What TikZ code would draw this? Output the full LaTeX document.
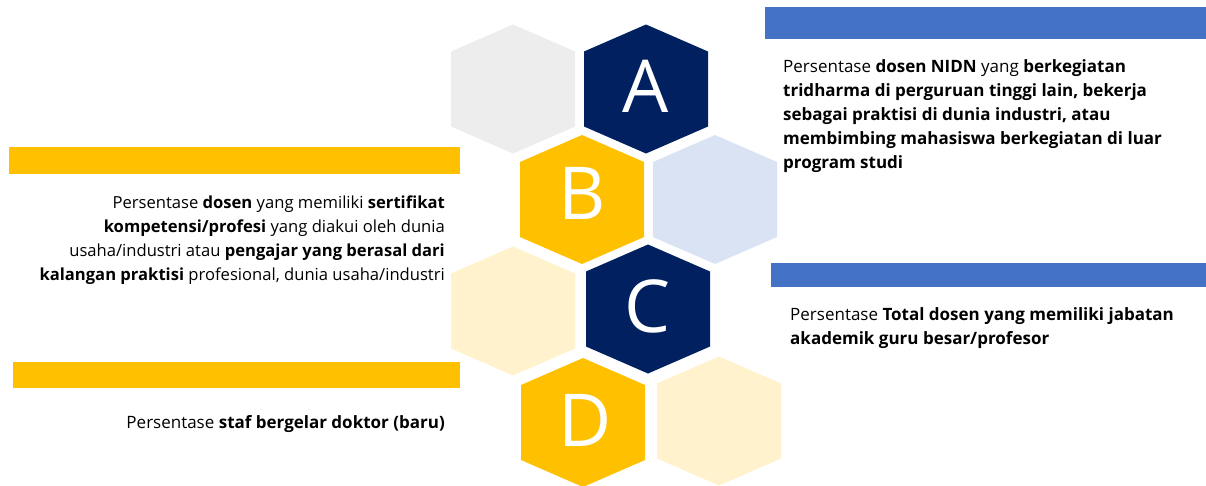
\documentclass[tikz,border=0pt]{standalone}
\usepackage{fontspec}
\setmainfont{Open Sans}
\usepackage{tikz}
\usetikzlibrary{calc}
\definecolor{navyhex}{RGB}{0, 32, 96}
\definecolor{goldhex}{RGB}{255, 192, 0}
\definecolor{grayhex}{RGB}{237, 237, 237}
\definecolor{paleblue}{RGB}{218, 227, 243}
\definecolor{paleyellow}{RGB}{255, 242, 204}
\definecolor{barblue}{RGB}{68, 114, 196}

\begin{document}
\begin{tikzpicture}[x=1pt, y=-1pt,
        desc/.style={inner sep=0pt, text=black, font=\fontsize{17}{24}\selectfont},
        letter/.style={inner sep=0pt, text=white, font=\fontsize{73}{73}\selectfont}]
        \useasboundingbox (0,0) rectangle (1206,485);

        % sarang lebah (heksagon)
        \foreach \cx/\cy/\c in {513/89/grayhex, 646/89/navyhex, 582/199.5/goldhex, 715/199.5/paleblue,
                                513/311/paleyellow, 648/309/navyhex, 583/422.5/goldhex, 719/421/paleyellow}
            \fill[\c] (\cx,\cy-64.5) -- ++(62,27) -- ++(0,75) -- (\cx,\cy+64.5) -- ++(-62,-27) -- ++(0,-75) -- cycle;

        % huruf
        \node[letter] (hA) at (646,86) {A};
        \node[letter] (hB) at (582,193) {B};
        \node[letter] (hC) at (648,306) {C};
        \node[letter] (hD) at (585,420) {D};

        % pita warna
        \fill[barblue] (765,7) rectangle (1206,39);
        \fill[barblue] (771,263) rectangle (1206,287);
        \fill[goldhex] (9,147) rectangle (460,174);
        \fill[goldhex] (13,362) rectangle (460,388);

        % keterangan
        \node[desc, anchor=north west, align=left] (txtA) at (783,59)
            {Persentase \textbf{dosen NIDN} yang \textbf{berkegiatan}\\
             \textbf{tridharma di perguruan tinggi lain, bekerja}\\
             \textbf{sebagai praktisi di dunia industri, atau}\\
             \textbf{membimbing mahasiswa berkegiatan di luar}\\
             \textbf{program studi}};
        \node[desc, font=\fontsize{16.6}{24}\selectfont, anchor=north east, align=right] (txtB) at (445,196)
            {Persentase \textbf{dosen} yang memiliki \textbf{sertifikat}\\
             \textbf{kompetensi/profesi} yang diakui oleh dunia\\
             usaha/industri atau \textbf{pengajar yang berasal dari}\\
             \textbf{kalangan praktisi} profesional, dunia usaha/industri};
        \node[desc, anchor=north west, align=left] (txtC) at (790,307)
            {Persentase \textbf{Total dosen yang memiliki jabatan}\\
             \textbf{akademik guru besar/profesor}};
        \node[desc, anchor=north east, align=right] (txtD) at (445,415)
            {Persentase \textbf{staf bergelar doktor (baru)}};
    \end{tikzpicture}
\end{document}
